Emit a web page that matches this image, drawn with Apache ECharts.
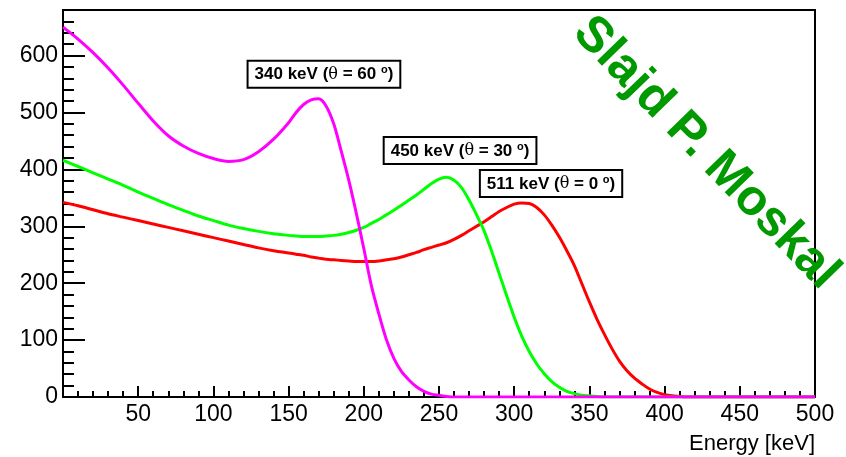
<!DOCTYPE html>
<html>
<head>
<meta charset="utf-8">
<script src="https://cdn.jsdelivr.net/npm/echarts@6/dist/echarts.min.js"></script>
<style>
html, body { margin: 0; padding: 0; background: #fff; }
#chart { width: 846px; height: 457px; }
</style>
</head>
<body>
<div id="chart"></div>
<script>
// energy grid [keV]: 10 keV steps, 5 keV in the peak region
const energy = [0,10,20,30,40,50,60,70,80,90,100,110,120,130,140,
  150,155,160,165,170,175,180,185,190,195,200,205,210,215,220,225,230,235,240,245,
  250,255,260,265,270,275,280,285,290,295,300,305,310,315,320,325,330,335,340,345,
  350,355,360,365,370,375,380,385,390,395,400,405,410,415,420,
  440,460,480,500];

// 340 keV (theta = 60 deg)
const e340 = [650,629,605,578,548,516,485,459,441,428,419,414,417,431,453,
  482,500,514,522,524,511,480,432,381,323,261,196,146,101,68,45,30,18,10,5,
  3,1,0,0,0,0,0,0,0,0,0,0,0,0,0,0,0,0,0,0,
  0,0,0,0,0,0,0,0,0,0,0,0,0,0,0,
  0,0,0,0];
// 450 keV (theta = 30 deg)
const e450 = [416,405,394,383,372,360,349,338,328,318,310,302,296,291,287,
  284,283,282,282,282,283,284,286,289,293,298,305,312,320,328,337,346,355,365,375,
  383,386,381,368,346,320,292,256,217,178,140,107,80,58,41,27,17,10,6,3,
  2,1,0,0,0,0,0,0,0,0,0,0,0,0,0,
  0,0,0,0];
// 511 keV (theta = 0 deg)
const e511 = [342,336,329,322,316,310,304,298,292,286,280,274,268,262,257,
  253,251,249,246,244,242,241,240,239,238,238,238,239,241,243,246,250,254,259,263,
  267,271,277,284,292,300,308,317,326,333,339,341,340,333,320,302,281,257,231,199,
  167,137,110,85,63,46,33,23,14,8,4,2,1,0,0,
  0,0,0,0];

const labels = ['340 keV (θ = 60 °)', '450 keV (θ = 30 °)', '511 keV (θ = 0 °)'];
const labelPos = [[173.5, 567], [264, 433], [324.5, 375]];

const chart = echarts.init(document.getElementById('chart'));

const FONT = '"Liberation Sans", Arial, sans-serif';

function pairs(vals) {
  return energy.map((e, i) => [e, vals[i]]);
}

function boxLabel(idx) {
  // split around theta and the degree sign so they can be styled
  const parts = labels[idx].split('θ');
  const rest = parts[1].replace('°)', '');
  return {
    coord: labelPos[idx],
    value: labels[idx],
    label: {
      formatter: '{t|' + parts[0] + '}{th|θ}{t|' + rest + '}{s|o}{t|)}'
    }
  };
}

function lineSeries(name, vals, color, idx, z) {
  return {
    name: name,
    type: 'line',
    data: pairs(vals),
    showSymbol: false,
    smooth: 0.3,
    z: z,
    lineStyle: { color: color, width: 3 },
    itemStyle: { color: color },
    markPoint: {
      symbol: 'rect',
      symbolSize: 0,
      silent: true,
      label: {
        show: true,
        position: 'inside',
        backgroundColor: '#fff',
        borderColor: '#000',
        borderWidth: 2,
        padding: [3, 6, 2, 6],
        rich: {
          t: { fontFamily: FONT, fontSize: 17, fontWeight: 'bold', color: '#000', lineHeight: 20 },
          th: { fontFamily: '"DejaVu Serif", serif', fontSize: 16, color: '#000', lineHeight: 20 },
          s: { fontFamily: FONT, fontSize: 11, fontWeight: 'bold', color: '#000', verticalAlign: 'top', lineHeight: 12 }
        }
      },
      data: [boxLabel(idx)]
    }
  };
}

const option = {
  animation: false,
  backgroundColor: '#fff',
  grid: {
    left: 63, right: 31, top: 10, bottom: 60,
    show: true, borderColor: '#000', borderWidth: 2
  },
  xAxis: {
    type: 'value',
    min: 0, max: 500, interval: 50,
    name: 'Energy [keV]',
    nameLocation: 'end',
    nameGap: 0,
    nameTextStyle: {
      fontFamily: FONT, fontSize: 22, color: '#000',
      align: 'right', verticalAlign: 'top', padding: [36, 0, 0, 0]
    },
    axisLine: { lineStyle: { color: '#000', width: 2 } },
    axisTick: { inside: true, length: 11, lineStyle: { color: '#000', width: 2 } },
    minorTick: { show: true, splitNumber: 5, length: 6, lineStyle: { color: '#000', width: 2 } },
    axisLabel: { showMinLabel: false, fontFamily: FONT, fontSize: 23, color: '#000', margin: 6 },
    splitLine: { show: false }
  },
  yAxis: {
    type: 'value',
    min: 0, max: 680, interval: 100,
    axisLine: { lineStyle: { color: '#000', width: 2 } },
    axisTick: { inside: true, length: 22, lineStyle: { color: '#000', width: 2 } },
    minorTick: { show: true, splitNumber: 5, length: 11, lineStyle: { color: '#000', width: 2 } },
    axisLabel: { showMaxLabel: false, fontFamily: FONT, fontSize: 23, color: '#000', margin: 5 },
    splitLine: { show: false }
  },
  series: [
    lineSeries('511 keV', e511, '#ff0000', 2, 2),
    lineSeries('450 keV', e450, '#00ff00', 1, 3),
    lineSeries('340 keV', e340, '#ff00ff', 0, 4)
  ],
  graphic: [
    {
      type: 'text',
      x: 706, y: 153,
      rotation: -0.8,
      z: 100,
      style: {
        text: 'Slajd P. Moskal',
        fontFamily: FONT,
        fontSize: 50,
        fontWeight: 'bold',
        fill: '#009900',
        align: 'center',
        verticalAlign: 'middle'
      }
    }
  ]
};

chart.setOption(option);
</script>
</body>
</html>
